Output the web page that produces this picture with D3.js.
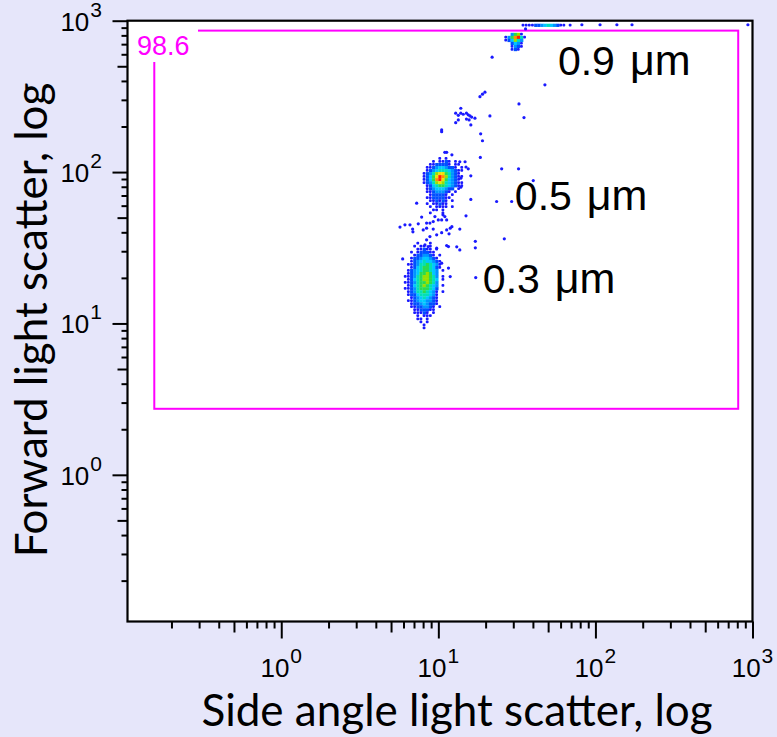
<!DOCTYPE html>
<html>
<head>
<meta charset="utf-8">
<script src="https://cdn.jsdelivr.net/npm/d3@7"></script>
<style>
  html, body { margin: 0; padding: 0; background: #e6e6fa; }
  svg { display: block; }
</style>
</head>
<body>
<svg id="chart" width="777" height="737"></svg>
<script>
// ---- axis text ----
const decadeExponents = [0, 1, 2, 3];
const xTitle = "Side angle light scatter, log";
const yTitle = "Forward light scatter, log";

// ---- gate (SSC, FSC corners) and its percentage ----
const gateLow = [0.1555, 2.73];
const gateHigh = [811, 860];
const gateLabel = "98.6";

// ---- bead populations ----
const beadSizes = ["0.9", "0.5", "0.3"];
const beadUnit = "μm";
const beadLabelAnchors = [[57.7, 439], [30.7, 56.3], [19.2, 15.9]];

// ---- density bins: log10 width of one bin, level per bin ('.' = empty) ----
const gridStep = 0.02;
const levelKeys = ["1", "2", "3", "4", "5", "6", "7", "8", "9", "R"];
const levelColors = ["#1a1aff", "#0050ff", "#0094ff", "#00c8ff", "#00e0b8", "#28dc50", "#98e000", "#f2e200", "#ff9000", "#ff2000"];

// 0.3 um beads: top-left bin at [SSC, FSC]
const bead03Origin = [6.026, 34.67];
const bead03Rows = [
  "....1...1....",
  "...1.11.1....",
  "....11211.1..",
  "..1.122211...",
  "...1223321.1.",
  "..122344321..",
  "..1234544321.",
  ".11235565431.",
  "..1245665421.",
  ".1234566543.1",
  ".1234667643..",
  "11235677653.1",
  ".1245677654.1",
  "11235667653..",
  ".1245676543.1",
  "11235666542..",
  ".1235565431.1",
  ".1224555431..",
  "..123454321..",
  ".1123443321..",
  "..122343221..",
  "..11223321.1.",
  "...1122211...",
  "...11121.1...",
  "....1.111....",
  "....11.1.....",
  ".....1.1.....",
  "......1......",
  "......1......"
];

// 0.5 um beads
const bead05Origin = [7.943, 125.9];
const bead05Rows = [
  ".....1.1.....",
  "...1.1121.1..",
  "..1122221.11.",
  ".1123443221.1",
  ".123455543211",
  "123578865321.",
  "12468R9753211",
  "12469R864321.",
  "1235787543211",
  ".124566543211",
  ".123444322.1.",
  ".11233321.1..",
  "..122221.1...",
  ".11222211....",
  "..112121.1...",
  ".1.11211.....",
  "..1.1111.1...",
  "...11.1......",
  "..1...1......"
];

// 0.9 um beads
const bead09Origin = [26.30, 831.8];
const bead09Rows = [
  "..3671.",
  "1369R51",
  "124753.",
  "..2431.",
  "..1321.",
  "..121.."
];

// events piled up at the top of the FSC range
const topEdgeOrigin = [33.88, 955];
const topEdgeRows = [
  "11112234543211.1"
];

// single events outside the dense populations [SSC, FSC]
const sparseEvents = [
  [22.0, 574], [47.7, 377], [18.4, 315], [19.1, 327], [19.8, 337], [32.6, 282], [21.3, 235], [35.1, 229],
  [13.9, 264], [12.9, 245], [13.4, 237], [13.9, 245], [14.4, 241], [15.1, 245], [15.5, 239], [15.9, 235],
  [16.3, 231], [17.1, 227], [12.9, 212], [13.4, 221], [15.1, 224], [16.1, 205], [15.7, 221],
  [10.5, 190], [10.5, 185], [18.6, 179], [19.1, 161], [18.5, 125], [11.0, 135], [11.3, 135], [12.2, 130],
  [25.3, 105], [32.4, 105], [40.2, 87.9], [13.7, 117], [14.8, 117], [15.0, 108], [15.5, 105], [13.9, 91.2],
  [16.1, 94.4], [13.9, 79.5], [16.1, 66.0], [23.5, 63.9], [29.3, 63.9], [15.0, 51.4], [26.3, 36.2],
  [17.2, 34.9], [17.2, 31.6], [13.1, 32.1], [13.7, 42.0], [17.3, 20.1], [13.7, 30.6],
  [5.70, 43.3], [6.13, 44.8], [6.60, 44.8], [6.86, 42.0], [7.45, 45.5], [8.01, 41.5], [8.42, 42.6],
  [8.84, 46.0], [9.28, 47.1], [9.51, 50.8], [9.99, 48.3], [10.5, 48.3], [11.3, 48.3], [10.7, 52.2],
  [8.84, 37.5], [9.76, 38.5], [10.5, 39.8], [11.3, 41.5], [11.9, 42.6], [11.6, 32.2], [7.28, 62.3],
  [5.93, 26.7], [10.5, 25.0], [11.6, 23.2], [11.9, 20.4], [6.89, 40.3], [7.83, 50.4], [8.42, 46.0],
  [9.28, 42.0], [11.0, 50.8], [12.2, 43.6], [11.7, 39.1], [8.42, 35.7], [8.22, 33.0], [8.62, 32.2],
  [9.76, 31.4], [11.3, 32.7],
  [35.9, 883], [82, 940], [107, 940], [137, 940], [171, 940], [935, 940]
];

// ---------------------------------------------------------------
const svg = d3.select("#chart");
const tickFont = "'Liberation Sans', Arial, sans-serif";
const titleFont = "Lato, 'Open Sans', sans-serif";

const x = d3.scaleLog().domain([0.105, 1000]).range([127.5, 752.5]);
const y = d3.scaleLog().domain([0.1074, 1000]).range([621.5, 20.7]);
const [x0, x1] = x.range();
const [y1, y0] = y.range();

const levelColor = d3.scaleOrdinal().domain(levelKeys).range(levelColors);

// plot background
svg.append("rect")
  .attr("x", x0).attr("y", y0)
  .attr("width", x1 - x0).attr("height", y1 - y0)
  .attr("fill", "#ffffff");

svg.append("clipPath").attr("id", "plot-clip")
  .append("rect")
  .attr("x", x0).attr("y", y0)
  .attr("width", x1 - x0).attr("height", y1 - y0);

const plot = svg.append("g").attr("clip-path", "url(#plot-clip)");

// gate
const gx0 = x(gateLow[0]), gx1 = x(gateHigh[0]);
const gy0 = y(gateHigh[1]), gy1 = y(gateLow[1]);
plot.append("rect")
  .attr("x", gx0).attr("y", gy0)
  .attr("width", gx1 - gx0).attr("height", gy1 - gy0)
  .attr("fill", "none")
  .attr("stroke", "#ff00ff")
  .attr("stroke-width", 2);

// density bins
function drawBins(origin, rows) {
  const lx0 = Math.log10(origin[0]);
  const ly0 = Math.log10(origin[1]);
  const cells = [];
  rows.forEach((row, r) => {
    [...row].forEach((ch, c) => {
      if (ch !== ".") cells.push({ c, r, level: ch });
    });
  });
  const cx = c => x(Math.pow(10, lx0 + c * gridStep));
  const cy = r => y(Math.pow(10, ly0 - r * gridStep));
  plot.append("g").selectAll("rect")
    .data(cells)
    .join("rect")
    .attr("x", d => cx(d.c))
    .attr("y", d => cy(d.r))
    .attr("width", d => cx(d.c + 1) - cx(d.c) + (d.level === "1" ? -0.3 : 0.2))
    .attr("height", d => cy(d.r + 1) - cy(d.r) + (d.level === "1" ? -0.3 : 0.2))
    .attr("rx", d => d.level === "1" ? 1 : 0)
    .attr("fill", d => levelColor(d.level));
}

drawBins(bead03Origin, bead03Rows);
drawBins(bead05Origin, bead05Rows);
drawBins(bead09Origin, bead09Rows);
drawBins(topEdgeOrigin, topEdgeRows);

plot.append("g").selectAll("circle")
  .data(sparseEvents)
  .join("circle")
  .attr("cx", d => x(d[0]))
  .attr("cy", d => y(d[1]))
  .attr("r", 1.6)
  .attr("fill", levelColors[0]);

// gate label on a white patch
svg.append("rect")
  .attr("x", 133).attr("y", 26)
  .attr("width", 65).attr("height", 36)
  .attr("fill", "#ffffff");
svg.append("text")
  .attr("x", 137).attr("y", 55)
  .attr("font-family", tickFont)
  .attr("font-size", 27)
  .attr("fill", "#ff00ff")
  .text(gateLabel);

// frame
svg.append("rect")
  .attr("x", x0).attr("y", y0)
  .attr("width", x1 - x0).attr("height", y1 - y0)
  .attr("fill", "none")
  .attr("stroke", "#000")
  .attr("stroke-width", 2.2);

// ticks: decades long, fives medium, the rest short
const logTicksX = x.ticks();
const logTicksY = y.ticks();
const isDecade = v => Math.abs(Math.log10(v) - Math.round(Math.log10(v))) < 1e-9;
const isFive = v => !isDecade(v) && Math.abs(v / Math.pow(10, Math.floor(Math.log10(v) + 1e-9)) - 5) < 1e-6;

function tickLayer(axisGen, values, size, transform) {
  const g = svg.append("g")
    .attr("transform", transform)
    .call(axisGen.tickValues(values).tickSize(size).tickFormat(""));
  g.select(".domain").remove();
  g.selectAll("line").attr("stroke", "#000").attr("stroke-width", 2);
  return g;
}

const xDec = logTicksX.filter(isDecade);
const xFive = logTicksX.filter(isFive);
const xMinor = logTicksX.filter(v => !isDecade(v) && !isFive(v));
tickLayer(d3.axisBottom(x), xMinor, 7, `translate(0,${y1})`);
tickLayer(d3.axisBottom(x), xFive, 11, `translate(0,${y1})`);
tickLayer(d3.axisBottom(x), xDec, 17, `translate(0,${y1})`);

const yDec = logTicksY.filter(isDecade);
const yFive = logTicksY.filter(isFive);
const yMinor = logTicksY.filter(v => !isDecade(v) && !isFive(v));
tickLayer(d3.axisLeft(y), yMinor, 6, `translate(${x0},0)`);
tickLayer(d3.axisLeft(y), yFive, 10, `translate(${x0},0)`);
tickLayer(d3.axisLeft(y), yDec, 15, `translate(${x0},0)`);

// decade labels 10^n
function powerLabel(sel, exp) {
  sel.append("tspan").text("10");
  sel.append("tspan").attr("font-size", 21).attr("dy", -14).attr("dx", 1).text(String(exp));
}

svg.append("g").selectAll("text")
  .data(decadeExponents)
  .join("text")
  .attr("x", d => x(Math.pow(10, d)))
  .attr("y", 677)
  .attr("text-anchor", "middle")
  .attr("font-family", tickFont)
  .attr("font-size", 26)
  .attr("fill", "#000")
  .each(function (d) { powerLabel(d3.select(this), d); });

svg.append("g").selectAll("text")
  .data(decadeExponents)
  .join("text")
  .attr("x", 102)
  .attr("y", d => y(Math.pow(10, d)) + 10)
  .attr("text-anchor", "end")
  .attr("font-family", tickFont)
  .attr("font-size", 26)
  .attr("fill", "#000")
  .each(function (d) { powerLabel(d3.select(this), d); });

// axis titles
svg.append("text")
  .attr("x", 457).attr("y", 726)
  .attr("text-anchor", "middle")
  .attr("font-family", titleFont)
  .attr("font-size", 44)
  .attr("fill", "#000")
  .text(xTitle);

svg.append("text")
  .attr("transform", "translate(47,320) rotate(-90)")
  .attr("text-anchor", "middle")
  .attr("font-family", titleFont)
  .attr("font-size", 44)
  .attr("fill", "#000")
  .text(yTitle);

// bead size annotations
const beadText = svg.append("g").selectAll("text")
  .data(beadSizes)
  .join("text")
  .attr("x", (d, i) => x(beadLabelAnchors[i][0]))
  .attr("y", (d, i) => y(beadLabelAnchors[i][1]))
  .attr("font-family", tickFont)
  .attr("font-size", 41)
  .attr("fill", "#000");
beadText.append("tspan").text(d => d);
beadText.append("tspan").attr("dx", 15).attr("font-size", 43).text(beadUnit);
</script>
</body>
</html>
